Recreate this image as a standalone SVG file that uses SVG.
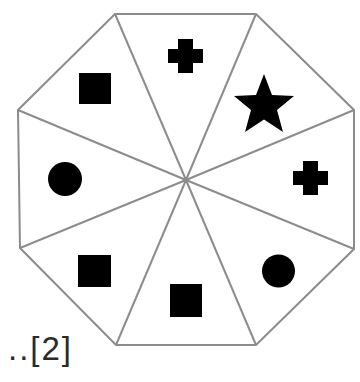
<svg xmlns="http://www.w3.org/2000/svg" width="360" height="382" viewBox="0 0 360 382">
<style>
.edge{fill:none;stroke:#8c8c8c;stroke-width:2;stroke-linejoin:miter}
.shape{fill:#000}
.lbl{font-family:"Liberation Sans",Arial,sans-serif;font-size:33px;fill:#2a2a2a;letter-spacing:2px}
</style>
<rect width="360" height="382" fill="#fff"/>
<g id="outline">
<polygon class="edge" points="115,14 256,14 354,110 354,249 256,345 116,345 20,248 18,110"/>
</g>
<g id="connectors">
<line class="edge" x1="186" y1="180" x2="115" y2="14"/>
<line class="edge" x1="186" y1="180" x2="256" y2="14"/>
<line class="edge" x1="186" y1="180" x2="354" y2="110"/>
<line class="edge" x1="186" y1="180" x2="354" y2="249"/>
<line class="edge" x1="186" y1="180" x2="256" y2="345"/>
<line class="edge" x1="186" y1="180" x2="116" y2="345"/>
<line class="edge" x1="186" y1="180" x2="20" y2="248"/>
<line class="edge" x1="186" y1="180" x2="18" y2="110"/>
</g>
<g id="sector-top">
<path class="shape" d="M178,39 h15 v10 h10 v14 h-10 v10 h-15 v-10 h-10 v-14 h10 z"/>
</g>
<g id="sector-upper-right">
<polygon class="shape" points="264,74 272,95 294,96 277,110 283,132 264,119.5 245,132 251,110 234,96 256,95"/>
</g>
<g id="sector-right">
<path class="shape" d="M303,161 h15 v10 h10 v14 h-10 v10 h-15 v-10 h-10 v-14 h10 z"/>
</g>
<g id="sector-lower-right">
<circle class="shape" cx="278.5" cy="271" r="16.5"/>
</g>
<g id="sector-bottom">
<rect class="shape" x="170" y="284" width="32" height="33"/>
</g>
<g id="sector-lower-left">
<rect class="shape" x="78" y="255" width="33" height="32"/>
</g>
<g id="sector-left">
<circle class="shape" cx="65" cy="179" r="17"/>
</g>
<g id="sector-upper-left">
<rect class="shape" x="79" y="73" width="32" height="31"/>
</g>
<g id="label">
<text class="lbl" x="8" y="360">..[2]</text>
</g>
</svg>
